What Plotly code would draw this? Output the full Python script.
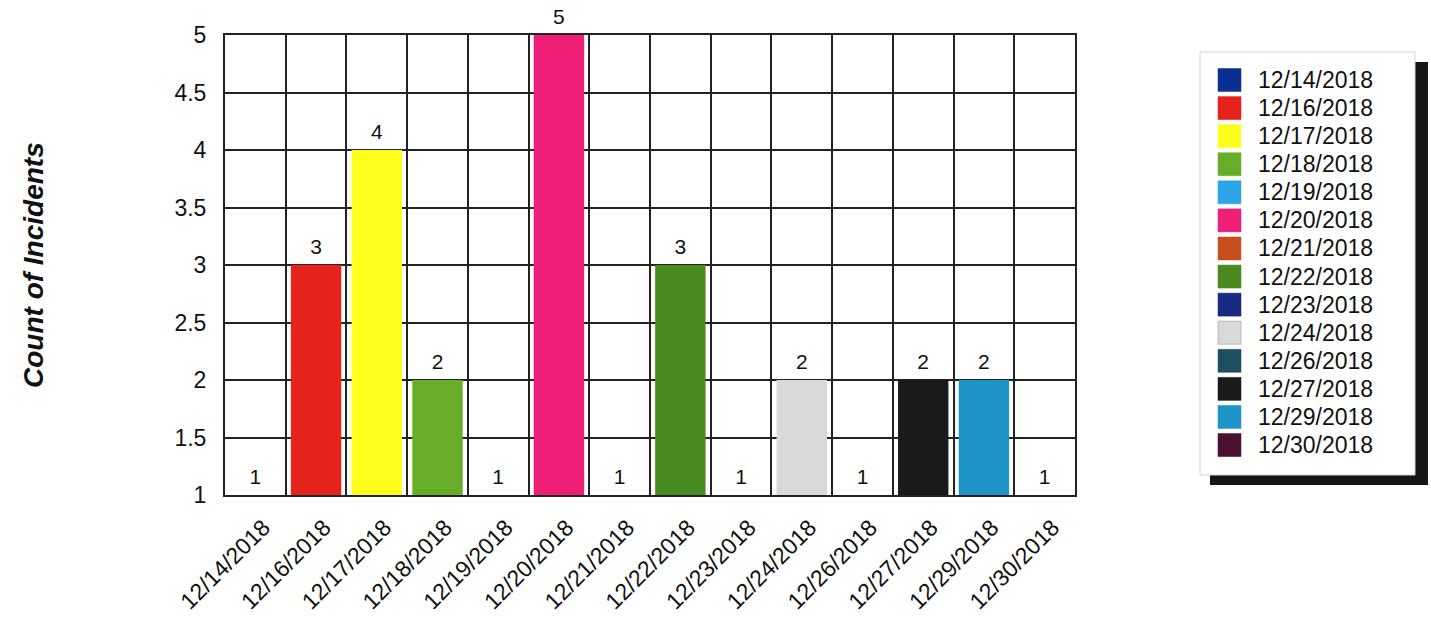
import plotly.graph_objects as go

dates = ["12/14/2018", "12/16/2018", "12/17/2018", "12/18/2018", "12/19/2018",
         "12/20/2018", "12/21/2018", "12/22/2018", "12/23/2018", "12/24/2018",
         "12/26/2018", "12/27/2018", "12/29/2018", "12/30/2018"]
counts = [1, 3, 4, 2, 1, 5, 1, 3, 1, 2, 1, 2, 2, 1]
colors = ["#0b2f90", "#e6221d", "#ffff1e", "#67ad2a", "#2ba5e6", "#ef1f78",
          "#c64f1d", "#4a8b1f", "#182a82", "#d9d9d9", "#1d4f63", "#1a1a1a",
          "#1e95c6", "#4a1230"]
y_ticks = [1, 1.5, 2, 2.5, 3, 3.5, 4, 4.5, 5]
y_tick_text = ["1", "1.5", "2", "2.5", "3", "3.5", "4", "4.5", "5"]

FONT = "Liberation Sans, Arial, sans-serif"

W, H = 1431, 617
# target plot box in page pixels
PL, PR, PT, PB = 225, 1075, 35, 495
pw = PR - PL
ph = PB - PT


def px_x(x):
    return (x - PL) / pw


def px_y(y):
    return (PB - y) / ph


fig = go.Figure()
for d, c, col in zip(dates, counts, colors):
    fig.add_trace(go.Bar(
        x=[d], y=[c], name=d, marker=dict(color=col, line=dict(width=0)),
        width=0.83, showlegend=False,
    ))

fig.add_trace(go.Scatter(
    x=dates, y=counts, mode="markers+text", text=[str(v) for v in counts],
    textposition="top center", textfont=dict(size=21, color="#111", family=FONT),
    marker=dict(size=8, opacity=0),
    showlegend=False, cliponaxis=False, hoverinfo="skip",
))

# legend: shadow, box, swatches and labels
LEG_X0, LEG_X1, LEG_Y0, LEG_Y1 = 1200, 1415, 52, 475
fig.add_shape(type="rect", xref="paper", yref="paper",
              x0=px_x(LEG_X0 + 10), x1=px_x(LEG_X1 + 13),
              y0=px_y(LEG_Y1 + 10), y1=px_y(LEG_Y0 + 10),
              fillcolor="#151515", line=dict(width=0), layer="above")
fig.add_shape(type="rect", xref="paper", yref="paper",
              x0=px_x(LEG_X0), x1=px_x(LEG_X1), y0=px_y(LEG_Y1), y1=px_y(LEG_Y0),
              fillcolor="white", line=dict(width=1, color="#d4d4d4"), layer="above")
ROW0, ROW_STEP, SW = 80, 28.08, 23
for i, (d, col) in enumerate(zip(dates, colors)):
    yc = ROW0 + i * ROW_STEP
    fig.add_shape(type="rect", xref="paper", yref="paper",
                  x0=px_x(1218), x1=px_x(1218 + SW),
                  y0=px_y(yc + SW / 2), y1=px_y(yc - SW / 2),
                  fillcolor=col, line=dict(width=0.5, color="#888" if col == "#d9d9d9" else col),
                  layer="above")
    fig.add_annotation(text=d, xref="paper", yref="paper",
                       x=px_x(1256), y=px_y(yc), xanchor="left", yanchor="middle",
                       showarrow=False, font=dict(size=23, family=FONT, color="#111"))

fig.add_annotation(
    text="<b><i>Count of Incidents</i></b>", xref="paper", yref="paper",
    x=px_x(33), y=px_y(265), textangle=-90, showarrow=False,
    font=dict(size=28, family=FONT, color="#111"),
    xanchor="center", yanchor="middle",
)

fig.update_layout(
    width=W, height=H,
    margin=dict(l=PL, r=W - PR, t=PT, b=H - PB, autoexpand=False),
    paper_bgcolor="white", plot_bgcolor="white",
    barmode="overlay", showlegend=False,
    font=dict(family=FONT, size=23, color="#111"),
    xaxis=dict(
        type="category", tickangle=-45, tickson="boundaries",
        range=[-0.5, len(dates) - 0.5], automargin=False,
        showgrid=True, gridcolor="#222", gridwidth=1.5,
        showline=True, linecolor="#222", linewidth=2, mirror=True,
        ticks="", ticklabelstandoff=8, ticklabelshift=8,
        tickfont=dict(size=23, family=FONT),
    ),
    yaxis=dict(
        range=[1, 5], tickvals=y_ticks, ticktext=y_tick_text, automargin=False,
        showgrid=True, gridcolor="#222", gridwidth=1.5,
        showline=True, linecolor="#222", linewidth=2, mirror=True,
        ticks="", ticklabelstandoff=12, tickfont=dict(size=23, family=FONT),
        zeroline=False,
    ),
)

fig.write_html("out.html", config={"displayModeBar": False},
               post_script="document.body.style.margin='0px';")
